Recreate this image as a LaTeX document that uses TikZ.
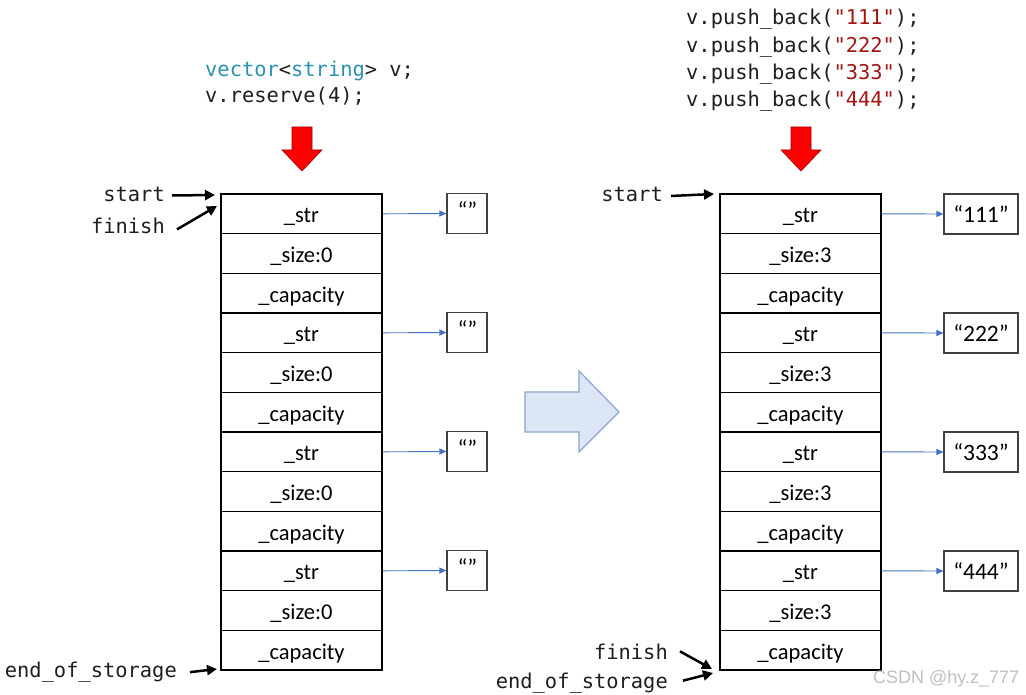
\documentclass[tikz,border=0pt]{standalone}
\usepackage{fontspec}
\setmainfont{Carlito}
\newfontfamily\codefont{DejaVu Sans Mono}
\newfontfamily\wmfont{Liberation Sans}
\usetikzlibrary{arrows.meta}
\definecolor{typeblue}{RGB}{43,145,175}
\definecolor{strred}{RGB}{163,21,21}
\definecolor{linkblue}{RGB}{68,114,196}
\definecolor{bigfill}{RGB}{220,230,244}
\definecolor{bigdraw}{RGB}{140,165,205}
\definecolor{codegray}{RGB}{30,30,30}
\tikzset{
  cell/.style={draw=black, line width=0.9pt, minimum width=161pt, minimum height=39.667pt,
    inner sep=0pt, text height=19pt, text depth=1pt, font=\fontsize{22.5}{24}\selectfont},
  grp/.style={draw=black, line width=1.9pt},
  code/.style={anchor=base west, inner sep=0pt, text=codegray, font=\codefont\fontsize{20.4}{24}\selectfont},
  lbl/.style={anchor=base east, inner sep=0pt, text=codegray, font=\codefont\fontsize{20.4}{24}\selectfont},
  qbox/.style={draw=black!75, line width=1.1pt, inner sep=0pt, text height=18pt, text depth=1pt, font=\fontsize{23.5}{25}\selectfont},
  link/.style={draw=linkblue, line width=0.9pt, -{Triangle[length=7pt,width=6pt]}},
  ptr/.style={draw=black, line width=2.5pt, -{Triangle[length=10pt,width=10pt]}},
  redarrow/.style={fill=red, draw=red!60!black, line width=0.6pt},
  bigarrow/.style={fill=bigfill, draw=bigdraw, line width=1.2pt}
}
\begin{document}
\begin{tikzpicture}[x=1pt,y=-1pt]
\useasboundingbox (0,0) rectangle (1026,695);
% code texts
\node[code] (c1) at (205,77) {\textcolor{typeblue}{vector}<\textcolor{typeblue}{string}> v;};
\node[code] (c2) at (205,103) {v.reserve(4);};
\node[code] (p1) at (686,25) {v.push\_back(\textcolor{strred}{"111"});};
\node[code] (p2) at (686,52.3) {v.push\_back(\textcolor{strred}{"222"});};
\node[code] (p3) at (686,79.6) {v.push\_back(\textcolor{strred}{"333"});};
\node[code] (p4) at (686,106.9) {v.push\_back(\textcolor{strred}{"444"});};
% red arrows
\draw[redarrow] (292,127) -- (312,127) -- (312,150) -- (322,150) -- (302,171) -- (282,150) -- (292,150) -- cycle;
\draw[redarrow] (791,127) -- (811,127) -- (811,150) -- (821,150) -- (801,171) -- (781,150) -- (791,150) -- cycle;
% big arrow
\draw[bigarrow] (525,392) -- (579,392) -- (579,371) -- (619,412) -- (579,452) -- (579,432) -- (525,432) -- cycle;
% stacks
\foreach \g/\gy in {0/194,1/313,2/432,3/551} {
  \node[cell] (Ls\g) at (301.5,{\gy+19.833}) {\_str};
  \node[cell] (Lz\g) at (301.5,{\gy+59.5}) {\_size:0};
  \node[cell] (Lc\g) at (301.5,{\gy+99.167}) {\_capacity};
  \draw[grp] (221,\gy) rectangle (382,{\gy+119});
  \node[qbox, minimum width=40pt, minimum height=40pt] (Lq\g) at (467,{\gy+19.5}) {};
  \node[inner sep=0pt, font=\fontsize{23.5}{25}\selectfont] (Lqt\g) at (467.5,{\gy+16}) {“”};
  \draw[link] (Ls\g.east) -- (Lq\g.west);
  \node[cell] (Rs\g) at (800.5,{\gy+19.833}) {\_str};
  \node[cell] (Rz\g) at (800.5,{\gy+59.5}) {\_size:3};
  \node[cell] (Rc\g) at (800.5,{\gy+99.167}) {\_capacity};
  \draw[grp] (720,\gy) rectangle (881,{\gy+119});
}
\node[qbox, minimum width=74pt, minimum height=40pt] (Rq0) at (981,214) {“111”};
\node[qbox, minimum width=74pt, minimum height=40pt] (Rq1) at (981,333) {“222”};
\node[qbox, minimum width=74pt, minimum height=40pt] (Rq2) at (981,452) {“333”};
\node[qbox, minimum width=74pt, minimum height=40pt] (Rq3) at (981,571) {“444”};
\foreach \g in {0,1,2,3} { \draw[link] (Rs\g.east) -- (Rq\g.west); }
% pointer labels left
\node[lbl] (lstart) at (165,202) {start};
\node[lbl] (lfinish) at (165,234) {finish};
\node[lbl] (lend) at (177,677) {end\_of\_storage};
\coordinate (lstartT) at (215,195);
\coordinate (lfinishT) at (217,206);
\coordinate (lendT) at (217,669);
\draw[ptr] ([xshift=7pt,yshift=-0.5pt]lstart.east) -- (lstartT);
\draw[ptr] ([xshift=12pt,yshift=-3pt]lfinish.east) -- (lfinishT);
\draw[ptr] ([xshift=13pt,yshift=-0.5pt]lend.east) -- (lendT);
% pointer labels right
\node[lbl] (rstart) at (663,202) {start};
\node[lbl] (rfinish) at (668,659) {finish};
\node[lbl] (rend) at (668,688) {end\_of\_storage};
\coordinate (rstartT) at (714,194);
\coordinate (rfinishT) at (712,669);
\coordinate (rendT) at (713,673);
\draw[ptr] ([xshift=8pt,yshift=-1pt]rstart.east) -- (rstartT);
\draw[ptr] ([xshift=12pt,yshift=0pt]rfinish.east) -- (rfinishT);
\draw[ptr] ([xshift=15pt,yshift=2pt]rend.east) -- (rendT);
% watermark
\node[anchor=base west, inner sep=0pt, text=black!25, font=\wmfont\fontsize{18}{20}\selectfont] (wm) at (873,683) {CSDN @hy.z\_777};
\end{tikzpicture}
\end{document}
